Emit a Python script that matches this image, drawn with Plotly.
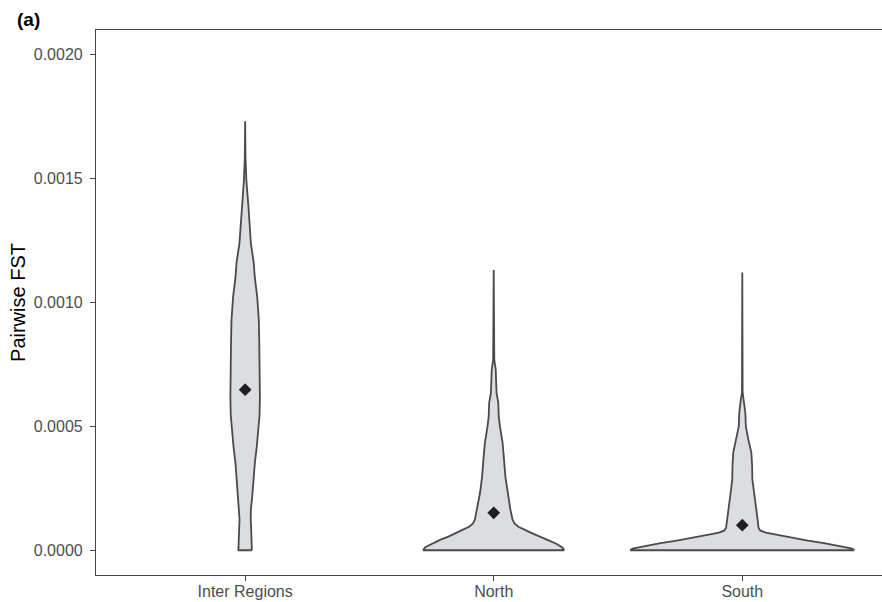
import plotly.graph_objects as go

# ---------------- data ----------------
categories = ["Inter Regions", "North", "South"]
mean_fst = [0.000648, 0.000151, 0.000101]

# violin outlines: FST value (bottom -> top) and scaled kernel density (widest violin = 1)
inter_fst = [0.0, 0.000043, 0.000083, 0.000124, 0.000164, 0.000216, 0.000285, 0.000354,
             0.000418, 0.000486, 0.000547, 0.000620, 0.000688, 0.000769, 0.000849,
             0.000930, 0.001022, 0.001103, 0.001160, 0.001239, 0.001292, 0.001385,
             0.001441, 0.001493, 0.001586, 0.001732]
inter_density = [0.060, 0.059, 0.054, 0.050, 0.051, 0.063, 0.074, 0.087, 0.104, 0.119,
                 0.129, 0.132, 0.132, 0.129, 0.126, 0.122, 0.108, 0.086, 0.077, 0.051,
                 0.045, 0.030, 0.020, 0.011, 0.003, 0.0]

north_fst = [0.0, 0.000004, 0.000010, 0.000015, 0.000027, 0.000043, 0.000055, 0.000071,
             0.000083, 0.000095, 0.000108, 0.000124, 0.000164, 0.000192, 0.000233,
             0.000297, 0.000366, 0.000434, 0.000498, 0.000539, 0.000595, 0.000635,
             0.000728, 0.000769, 0.001131]
north_density = [0.631, 0.625, 0.615, 0.600, 0.555, 0.475, 0.405, 0.330, 0.275, 0.220,
                 0.185, 0.168, 0.149, 0.140, 0.122, 0.104, 0.092, 0.079, 0.056, 0.045,
                 0.041, 0.025, 0.018, 0.005, 0.0]

south_fst = [0.0, 0.000003, 0.000007, 0.000017, 0.000029, 0.000039, 0.000051, 0.000063,
             0.000071, 0.000080, 0.000091, 0.000124, 0.000176, 0.000233, 0.000285,
             0.000337, 0.000394, 0.000446, 0.000499, 0.000555, 0.000607, 0.000636,
             0.001121]
south_density = [1.000, 0.995, 0.973, 0.874, 0.730, 0.586, 0.432, 0.300, 0.210, 0.160,
                 0.145, 0.137, 0.122, 0.104, 0.090, 0.088, 0.081, 0.054, 0.032, 0.027,
                 0.014, 0.003, 0.0]

y_ticks = [0.0, 0.0005, 0.0010, 0.0015, 0.0020]
y_tick_labels = ["0.0000", "0.0005", "0.0010", "0.0015", "0.0020"]

# ---------------- figure ----------------
HALF_WIDTH = 0.45  # half of ggplot's violin width (0.9)
FILL = "#dcdde0"
OUTLINE = "#4a4a4a"
FONT = "Liberation Sans, Arial, sans-serif"

fig = go.Figure()
profiles = [(inter_fst, inter_density), (north_fst, north_density), (south_fst, south_density)]
for i, (fst, dens) in enumerate(profiles):
    pos = i + 1
    xs = [pos + d * HALF_WIDTH for d in dens] + [pos - d * HALF_WIDTH for d in reversed(dens)]
    ys = list(fst) + list(reversed(fst))
    xs.append(xs[0])
    ys.append(ys[0])
    fig.add_trace(go.Scatter(
        x=xs, y=ys, mode="lines", fill="toself", fillcolor=FILL,
        line=dict(color=OUTLINE, width=1.8), hoverinfo="skip", showlegend=False,
    ))

fig.add_trace(go.Scatter(
    x=[1, 2, 3], y=mean_fst, mode="markers",
    marker=dict(symbol="diamond", size=9.8, color="#1e1e1e", line=dict(width=0)),
    showlegend=False,
))

fig.update_layout(
    width=882, height=602,
    margin=dict(l=96, r=0, t=30, b=27, autoexpand=False),
    paper_bgcolor="white", plot_bgcolor="white",
    font=dict(family=FONT, size=16, color="#4d4d4d"),
    xaxis=dict(
        range=[0.4, 3.562], tickmode="array", tickvals=[1, 2, 3], ticktext=categories,
        automargin=False,
        showgrid=False, zeroline=False, showline=True, linecolor="#444444", linewidth=1.2,
        mirror=True, ticks="outside", ticklen=5, tickcolor="#444444", tickwidth=1.2,
        ticklabelstandoff=-3,
        tickfont=dict(family=FONT, size=16, color="#4d4d4d"),
    ),
    yaxis=dict(
        range=[-0.0001, 0.0021], tickmode="array", tickvals=y_ticks, ticktext=y_tick_labels,
        automargin=False,
        showgrid=False, zeroline=False, showline=True, linecolor="#444444", linewidth=1.2,
        ticks="outside", ticklen=5, tickcolor="#444444", tickwidth=1.2,
        ticklabelstandoff=4,
        tickfont=dict(family=FONT, size=16, color="#4d4d4d"),
        title=dict(text="Pairwise FST", font=dict(family=FONT, size=20, color="#000000"),
                   standoff=2),
    ),
    annotations=[dict(
        text="<b>(a)</b>", xref="paper", yref="paper", x=-0.103, y=1.0196,
        xanchor="left", yanchor="middle", showarrow=False,
        font=dict(family=FONT, size=19, color="#000000"),
    )],
)

fig.write_html("out.html")
